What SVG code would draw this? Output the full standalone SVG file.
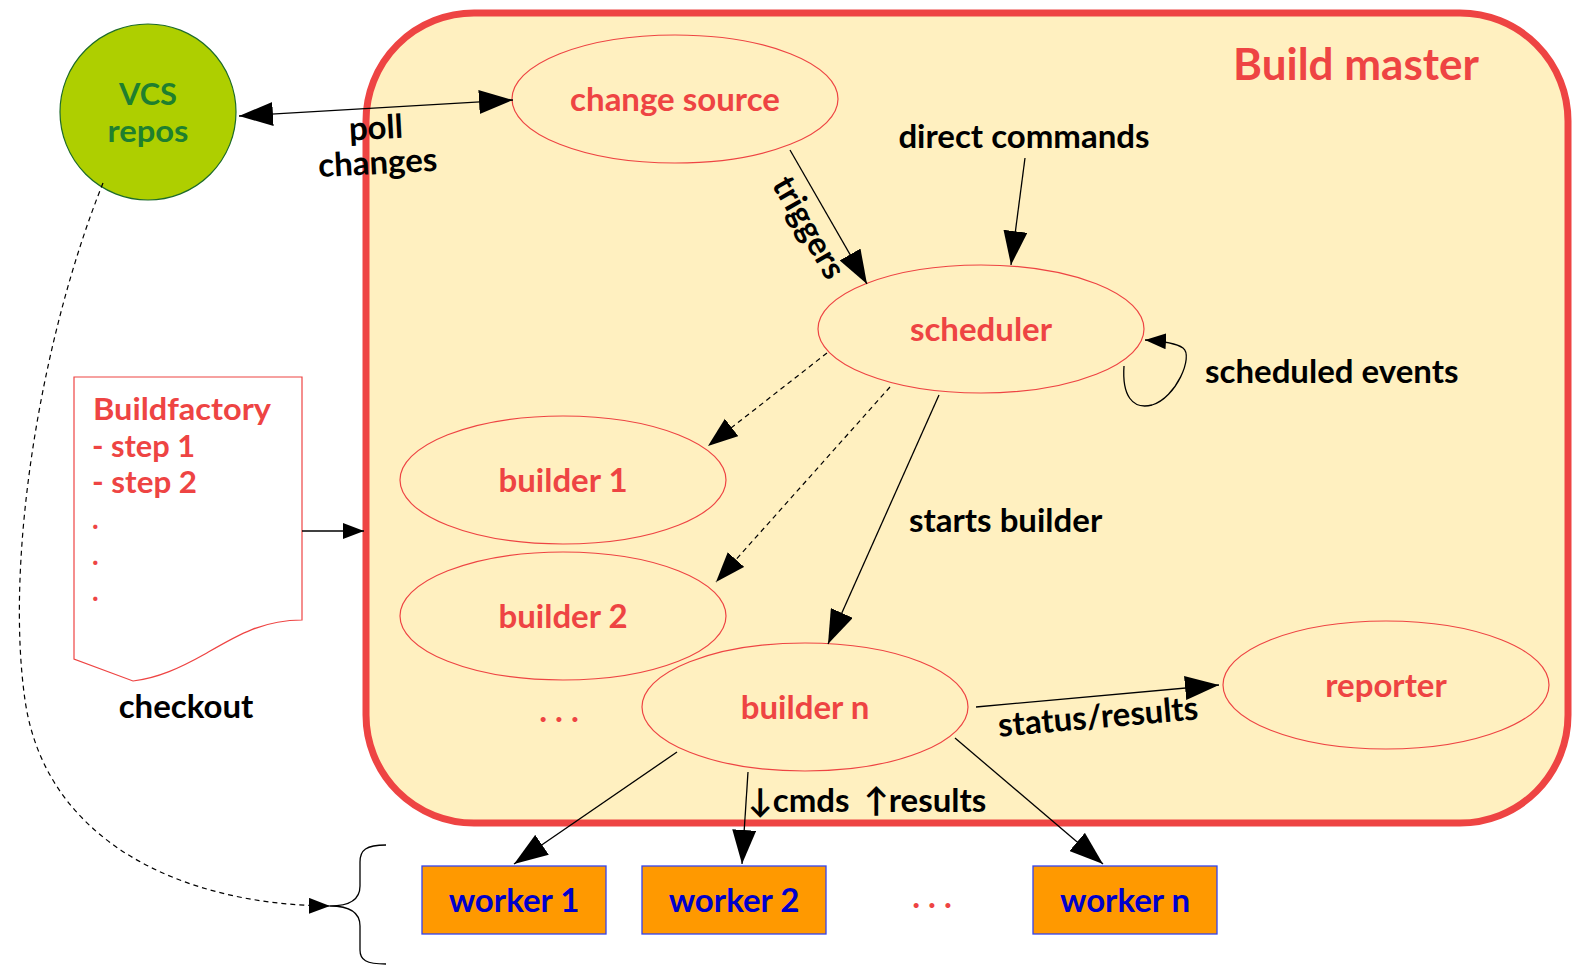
<svg xmlns="http://www.w3.org/2000/svg" width="1573" height="966" viewBox="0 0 1573 966">
<style>
text{font-family:"Lato","Open Sans","DejaVu Sans",sans-serif;font-weight:700}
.red{fill:#ee4443}
.blk{fill:#000}
.node{fill:none;stroke:#ee4443;stroke-width:1.2}
.c{text-anchor:middle}
.ln{fill:none;stroke:#000;stroke-width:1.3}
.dash{fill:none;stroke:#000;stroke-width:1.2;stroke-dasharray:5,4}
.t32{font-size:33px}
.t30{font-size:29.5px}
.dot{font-size:28px}
.wk{fill:#ff9900;stroke:#3344ee;stroke-width:1.3}
.wt{fill:#0000cc;font-size:33px;text-anchor:middle}
</style>
<defs>
<marker id="ah" markerUnits="userSpaceOnUse" markerWidth="36" markerHeight="24" refX="34" refY="12" orient="auto-start-reverse"><path d="M0,0 L34,12 L0,24 z" fill="#000"/></marker>
<marker id="as" markerUnits="userSpaceOnUse" markerWidth="22" markerHeight="16" refX="21" refY="8" orient="auto"><path d="M0,0 L21,8 L0,16 z" fill="#000"/></marker>
<marker id="am" markerUnits="userSpaceOnUse" markerWidth="32" markerHeight="24" refX="30" refY="11" orient="auto"><path d="M0,0 L30,11 L0,22 z" fill="#000"/></marker>
</defs>

<g id="build-master">
<rect x="366" y="13" width="1202" height="810" rx="108" ry="108" fill="#fff0c0" stroke="#ee4443" stroke-width="7"/>
<text class="red" x="1356" y="80" font-size="44" text-anchor="middle">Build master</text>
</g>

<g id="vcs-repos">
<circle cx="148" cy="112" r="88" fill="#aecf00" stroke="#1d6b2a" stroke-width="1.2"/>
<text class="c t30" fill="#1f7f2e"><tspan x="148" y="105" textLength="58" lengthAdjust="spacingAndGlyphs">VCS</tspan><tspan x="148" y="141.5" textLength="81" lengthAdjust="spacingAndGlyphs">repos</tspan></text>
</g>

<g id="change-source">
<ellipse class="node" cx="675" cy="99" rx="163" ry="64"/>
<text class="red c t32" x="675" y="111">change source</text>
</g>

<g id="scheduler">
<ellipse class="node" cx="981" cy="329" rx="163" ry="64"/>
<text class="red c t32" x="981" y="341">scheduler</text>
</g>

<g id="builder-1">
<ellipse class="node" cx="563" cy="480" rx="163" ry="64"/>
<text class="red c t32" x="563" y="492">builder 1</text>
</g>

<g id="builder-2">
<ellipse class="node" cx="563" cy="616" rx="163" ry="64"/>
<text class="red c t32" x="563" y="628">builder 2</text>
</g>

<g id="builder-n">
<ellipse class="node" cx="805" cy="707" rx="163" ry="64"/>
<text class="red c t32" x="805" y="719">builder n</text>
</g>

<g id="builder-ellipsis">
<text class="red c t32" x="559" y="722">. . .</text>
</g>

<g id="reporter">
<ellipse class="node" cx="1386" cy="685" rx="163" ry="64"/>
<text class="red c t32" x="1386" y="697">reporter</text>
</g>

<g id="buildfactory">
<path d="M74,377 H302 V620 C262,620 236,636 205,654 C180,668 158,678 133,681 L74,659 Z" fill="#fff" stroke="#ee4443" stroke-width="1.2"/>
<text class="red t30"><tspan x="93" y="420" textLength="178" lengthAdjust="spacingAndGlyphs">Buildfactory</tspan><tspan x="92" y="456.5" textLength="103" lengthAdjust="spacingAndGlyphs">- step 1</tspan><tspan x="92" y="493" textLength="105" lengthAdjust="spacingAndGlyphs">- step 2</tspan></text>
<text class="red dot" x="92" y="529">.</text>
<text class="red dot" x="92" y="565">.</text>
<text class="red dot" x="92" y="601">.</text>
</g>

<g id="checkout-label">
<text class="blk c t32" x="186" y="718">checkout</text>
</g>

<g id="worker-1">
<rect class="wk" x="422" y="866" width="184" height="68"/>
<text class="wt" x="514" y="912">worker 1</text>
</g>
<g id="worker-2">
<rect class="wk" x="642" y="866" width="184" height="68"/>
<text class="wt" x="734" y="912">worker 2</text>
</g>
<g id="worker-ellipsis">
<text class="red c t32" x="932" y="908">. . .</text>
</g>
<g id="worker-n">
<rect class="wk" x="1033" y="866" width="184" height="68"/>
<text class="wt" x="1125" y="912">worker n</text>
</g>

<g id="worker-brace">
<path class="ln" d="M386,845 C366,845 360,850 360,862 L360,886 C360,900 350,906 330,906 C350,906 360,912 360,926 L360,950 C360,960 366,964 386,964" stroke-width="1.2"/>
</g>

<g id="connectors">
<line class="ln" x1="239" y1="116" x2="513" y2="100" marker-start="url(#ah)" marker-end="url(#ah)"/>
<text class="blk c t32" transform="rotate(-3 377 150)"><tspan x="377" y="139">poll</tspan><tspan x="377" y="174">changes</tspan></text>

<line class="ln" x1="790" y1="150" x2="867" y2="284" marker-end="url(#ah)"/>
<text class="blk c t32" transform="translate(808 228) rotate(60)" x="0" y="10">triggers</text>

<text class="blk c t32" x="1024" y="148">direct commands</text>
<line class="ln" x1="1025" y1="158" x2="1011" y2="265" marker-end="url(#ah)"/>

<path class="ln" d="M1124,366 C1122,395 1132,410 1152,405 C1176,398 1194,356 1183,348 C1176,343 1162,341 1145,340" marker-end="url(#as)"/>
<text class="blk t32" x="1205" y="383">scheduled events</text>

<line class="dash" x1="827" y1="353" x2="708" y2="446" marker-end="url(#am)"/>
<line class="dash" x1="890" y1="387" x2="716" y2="582" marker-end="url(#am)"/>

<line class="ln" x1="939" y1="395" x2="828" y2="644" marker-end="url(#ah)"/>
<text class="blk t32" x="909" y="532">starts builder</text>

<line class="ln" x1="976" y1="707" x2="1219" y2="685" marker-end="url(#ah)"/>
<text class="blk c t32" transform="rotate(-5 1098 716)" x="1098" y="728">status/results</text>

<line class="ln" x1="302" y1="531" x2="364" y2="531" marker-end="url(#as)"/>

<path class="dash" d="M103,183 C40,340 5,560 25,700 C45,840 180,905 330,906" stroke-width="1" stroke-dasharray="4,3" marker-end="url(#as)"/>

<line class="ln" x1="677" y1="752" x2="514" y2="864" marker-end="url(#ah)"/>
<line class="ln" x1="748" y1="772" x2="742" y2="864" marker-end="url(#ah)"/>
<line class="ln" x1="955" y1="738" x2="1103" y2="864" marker-end="url(#ah)"/>
<text class="blk t32" x="748" y="812">↓cmds</text>
<text class="blk t32" x="864" y="812">↑results</text>
</g>
</svg>
